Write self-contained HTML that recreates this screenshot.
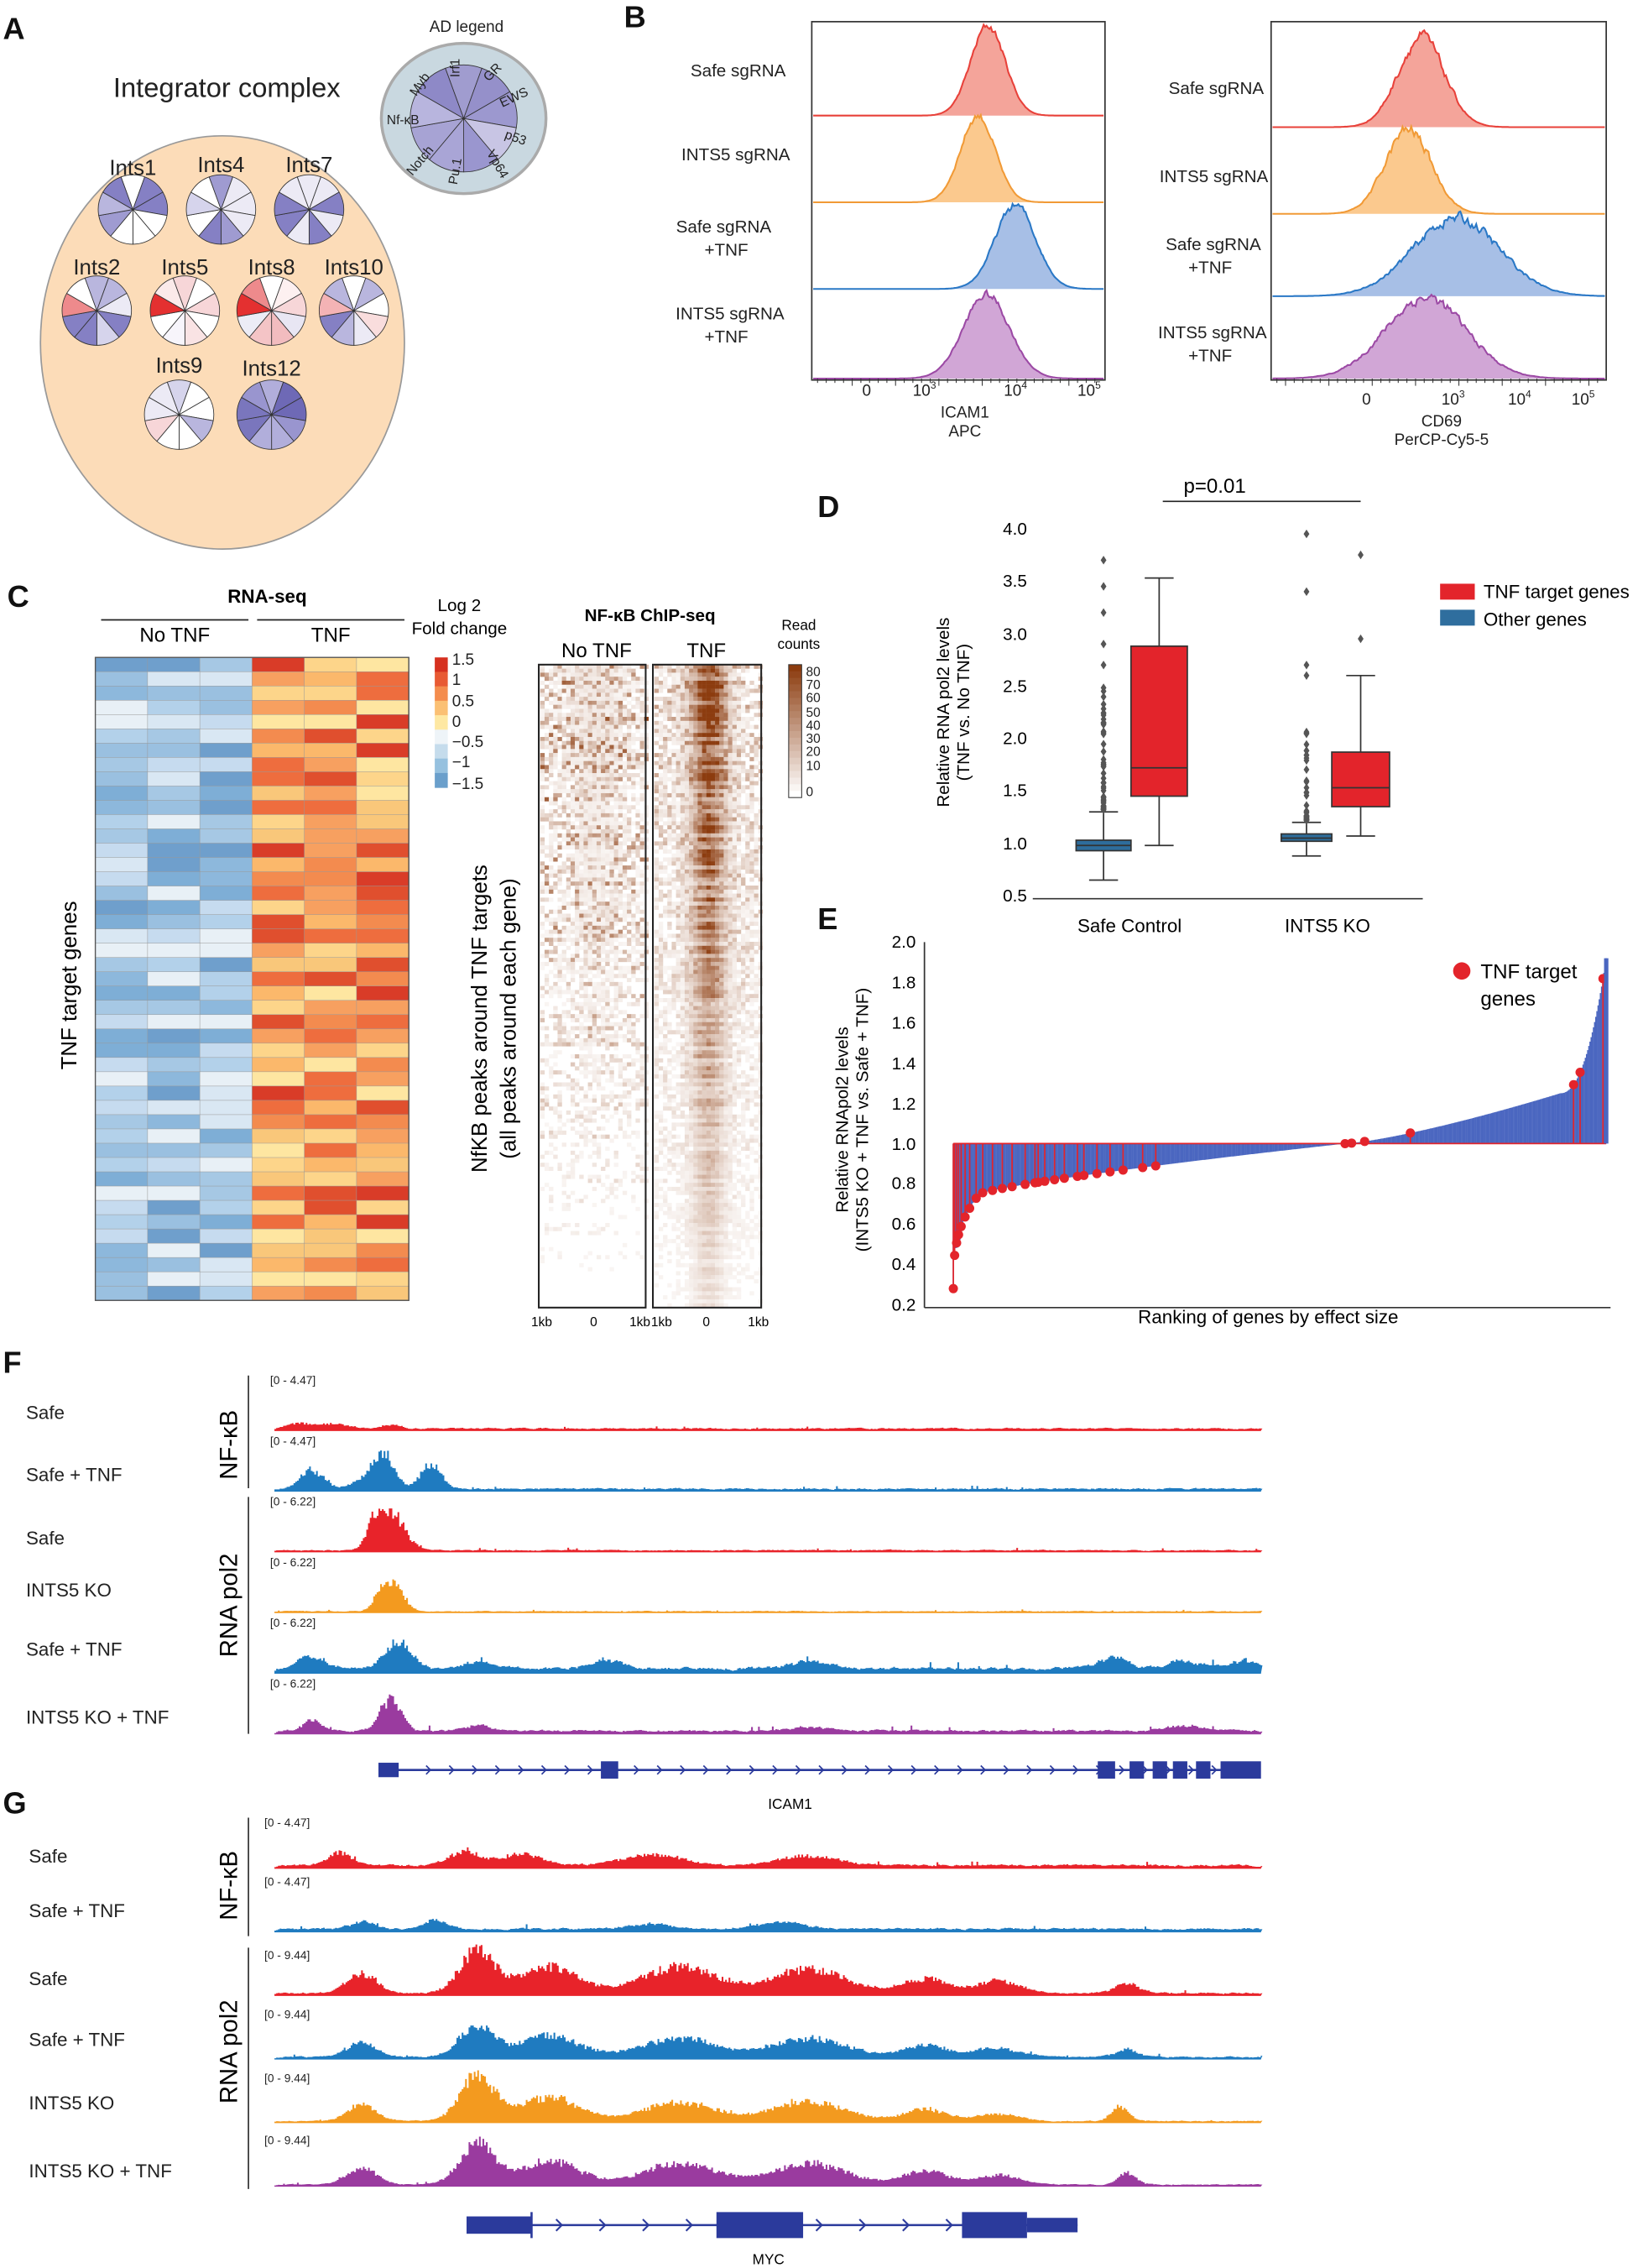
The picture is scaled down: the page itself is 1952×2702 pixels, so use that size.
<!DOCTYPE html>
<html><head><meta charset="utf-8"><style>
html,body{margin:0;padding:0;background:#fff}
svg{display:block}
text{font-family:"Liberation Sans",Arial,sans-serif}
</style></head><body>
<svg id="s" width="1952" height="2702" viewBox="0 0 1134 1569.7" xmlns="http://www.w3.org/2000/svg">
<rect width="1134" height="1570" fill="#fff"/>
<g id="g"></g>
<g font-weight="bold" font-size="21" fill="#111">
<text x="2" y="27">A</text><text x="432" y="19">B</text><text x="5" y="420">C</text>
<text x="566" y="358">D</text><text x="566" y="643">E</text><text x="2" y="950">F</text><text x="2" y="1255">G</text>
</g>
<text x="157" y="67" font-size="19" text-anchor="middle" fill="#222">Integrator complex</text>
<text x="323" y="22" font-size="11" text-anchor="middle" fill="#222">AD legend</text>
<g font-size="15" text-anchor="middle" fill="#222">
<text x="92" y="121">Ints1</text><text x="153" y="119">Ints4</text><text x="214" y="119">Ints7</text>
<text x="67" y="190">Ints2</text><text x="128" y="190">Ints5</text><text x="188" y="190">Ints8</text><text x="245" y="190">Ints10</text>
<text x="124" y="258">Ints9</text><text x="188" y="260">Ints12</text>
</g>
<g font-size="9" fill="#222" text-anchor="middle">
<text x="293" y="60" transform="rotate(-55 293 60)">Myb</text>
<text x="318" y="47" transform="rotate(-90 318 47)">Irf1</text>
<text x="343" y="52" transform="rotate(-45 343 52)">GR</text>
<text x="357" y="70" transform="rotate(-25 357 70)">EWS</text>
<text x="279" y="86">Nf-κB</text>
<text x="356" y="98" transform="rotate(20 356 98)">p53</text>
<text x="293" y="113" transform="rotate(-50 293 113)">Notch</text>
<text x="318" y="119" transform="rotate(-80 318 119)">Pu.1</text>
<text x="342" y="115" transform="rotate(60 342 115)">Vp64</text>
</g>
<g font-size="12" fill="#222" text-anchor="end">
<text x="544" y="53">Safe sgRNA</text><text x="547" y="111">INTS5 sgRNA</text>
<text x="534" y="161">Safe sgRNA</text><text x="518" y="177">+TNF</text>
<text x="543" y="221">INTS5 sgRNA</text><text x="518" y="237">+TNF</text>
<text x="875" y="65">Safe sgRNA</text><text x="878" y="126">INTS5 sgRNA</text>
<text x="873" y="173">Safe sgRNA</text><text x="853" y="189">+TNF</text>
<text x="877" y="234">INTS5 sgRNA</text><text x="853" y="250">+TNF</text>
</g>
<g font-size="11" fill="#222" text-anchor="middle">
<text x="600" y="274">0</text><text x="640" y="274">10<tspan font-size="7" dy="-5">3</tspan></text>
<text x="703" y="274">10<tspan font-size="7" dy="-5">4</tspan></text><text x="754" y="274">10<tspan font-size="7" dy="-5">5</tspan></text>
<text x="668" y="289">ICAM1</text><text x="668" y="302">APC</text>
<text x="946" y="280">0</text><text x="1006" y="280">10<tspan font-size="7" dy="-5">3</tspan></text>
<text x="1052" y="280">10<tspan font-size="7" dy="-5">4</tspan></text><text x="1096" y="280">10<tspan font-size="7" dy="-5">5</tspan></text>
<text x="998" y="295">CD69</text><text x="998" y="308">PerCP-Cy5-5</text>
</g>
<text x="185" y="417" font-size="13" font-weight="bold" text-anchor="middle">RNA-seq</text>
<text x="121" y="444" font-size="14" text-anchor="middle">No TNF</text>
<text x="229" y="444" font-size="14" text-anchor="middle">TNF</text>
<line x1="70" y1="429" x2="172" y2="429" stroke="#222"/><line x1="178" y1="429" x2="280" y2="429" stroke="#222"/>
<text x="318" y="423" font-size="12" text-anchor="middle">Log 2</text>
<text x="318" y="439" font-size="12" text-anchor="middle">Fold change</text>
<g font-size="11" fill="#222"><text x="313" y="460">1.5</text><text x="313" y="474">1</text><text x="313" y="489">0.5</text><text x="313" y="503">0</text><text x="313" y="517">−0.5</text><text x="313" y="531">−1</text><text x="313" y="546">−1.5</text></g>
<text x="53" y="682" font-size="15" text-anchor="middle" transform="rotate(-90 53 682)">TNF target genes</text>
<text x="450" y="430" font-size="12" font-weight="bold" text-anchor="middle">NF-κB ChIP-seq</text>
<text x="413" y="455" font-size="14" text-anchor="middle">No TNF</text>
<text x="489" y="455" font-size="14" text-anchor="middle">TNF</text>
<text x="553" y="436" font-size="10" text-anchor="middle">Read</text><text x="553" y="449" font-size="10" text-anchor="middle">counts</text>
<g font-size="9" fill="#222"><text x="558" y="468">80</text><text x="558" y="477">70</text><text x="558" y="486">60</text><text x="558" y="496">50</text><text x="558" y="505">40</text><text x="558" y="514">30</text><text x="558" y="523">20</text><text x="558" y="533">10</text><text x="558" y="551">0</text></g>
<text x="337" y="705" font-size="15" text-anchor="middle" transform="rotate(-90 337 705)">NfKB peaks around TNF targets</text>
<text x="357" y="705" font-size="15" text-anchor="middle" transform="rotate(-90 357 705)">(all peaks around each gene)</text>
<g font-size="9" text-anchor="middle"><text x="375" y="918">1kb</text><text x="411" y="918">0</text><text x="443" y="918">1kb</text><text x="458" y="918">1kb</text><text x="489" y="918">0</text><text x="525" y="918">1kb</text></g>
<text x="841" y="341" font-size="14" text-anchor="middle">p=0.01</text>
<line x1="805" y1="347" x2="942" y2="347" stroke="#222"/>
<g font-size="12" text-anchor="end"><text x="711" y="370">4.0</text><text x="711" y="406">3.5</text><text x="711" y="443">3.0</text><text x="711" y="479">2.5</text><text x="711" y="515">2.0</text><text x="711" y="551">1.5</text><text x="711" y="588">1.0</text><text x="711" y="624">0.5</text></g>
<text x="657" y="493" font-size="12" text-anchor="middle" transform="rotate(-90 657 493)">Relative RNA pol2 levels</text>
<text x="671" y="493" font-size="12" text-anchor="middle" transform="rotate(-90 671 493)">(TNF vs. No TNF)</text>
<text x="782" y="645" font-size="13" text-anchor="middle">Safe Control</text>
<text x="919" y="645" font-size="13" text-anchor="middle">INTS5 KO</text>
<rect x="997" y="404" width="24" height="11" fill="#e3242b"/><text x="1027" y="414" font-size="13">TNF target genes</text>
<rect x="997" y="422" width="24" height="11" fill="#2f6e9e"/><text x="1027" y="433" font-size="13">Other genes</text>
<g font-size="12" text-anchor="end"><text x="634" y="656">2.0</text><text x="634" y="684">1.8</text><text x="634" y="712">1.6</text><text x="634" y="740">1.4</text><text x="634" y="768">1.2</text><text x="634" y="796">1.0</text><text x="634" y="823">0.8</text><text x="634" y="851">0.6</text><text x="634" y="879">0.4</text><text x="634" y="907">0.2</text></g>
<text x="587" y="775" font-size="12" text-anchor="middle" transform="rotate(-90 587 775)">Relative RNApol2 levels</text>
<text x="601" y="775" font-size="12" text-anchor="middle" transform="rotate(-90 601 775)">(INTS5 KO + TNF vs. Safe + TNF)</text>
<text x="878" y="916" font-size="13" text-anchor="middle">Ranking of genes by effect size</text>
<circle cx="1012" cy="672" r="6" fill="#e3242b"/><text x="1025" y="677" font-size="14">TNF target</text><text x="1025" y="696" font-size="14">genes</text>
<g font-size="13" fill="#222">
<text x="18" y="982">Safe</text><text x="18" y="1025">Safe + TNF</text><text x="18" y="1069">Safe</text><text x="18" y="1105">INTS5 KO</text><text x="18" y="1146">Safe + TNF</text><text x="18" y="1193">INTS5 KO + TNF</text>
<text x="20" y="1289">Safe</text><text x="20" y="1327">Safe + TNF</text><text x="20" y="1374">Safe</text><text x="20" y="1416">Safe + TNF</text><text x="20" y="1460">INTS5 KO</text><text x="20" y="1507">INTS5 KO + TNF</text>
</g>
<g font-size="17" text-anchor="middle">
<text x="164" y="1000" transform="rotate(-90 164 1000)">NF-κB</text>
<text x="164" y="1111" transform="rotate(-90 164 1111)">RNA pol2</text>
<text x="164" y="1305" transform="rotate(-90 164 1305)">NF-κB</text>
<text x="164" y="1420" transform="rotate(-90 164 1420)">RNA pol2</text>
</g>
<line x1="172" y1="952" x2="172" y2="1030" stroke="#333"/><line x1="172" y1="1036" x2="172" y2="1200" stroke="#333"/>
<line x1="172" y1="1258" x2="172" y2="1340" stroke="#333"/><line x1="172" y1="1348" x2="172" y2="1515" stroke="#333"/>
<g font-size="8" fill="#222">
<text x="187" y="958">[0 - 4.47]</text><text x="187" y="1000">[0 - 4.47]</text><text x="187" y="1042">[0 - 6.22]</text><text x="187" y="1084">[0 - 6.22]</text><text x="187" y="1126">[0 - 6.22]</text><text x="187" y="1168">[0 - 6.22]</text>
<text x="183" y="1264">[0 - 4.47]</text><text x="183" y="1305">[0 - 4.47]</text><text x="183" y="1356">[0 - 9.44]</text><text x="183" y="1397">[0 - 9.44]</text><text x="183" y="1441">[0 - 9.44]</text><text x="183" y="1484">[0 - 9.44]</text>
</g>
<text x="547" y="1252" font-size="10" text-anchor="middle">ICAM1</text>
<text x="532" y="1567" font-size="10" text-anchor="middle">MYC</text>
</svg>
<script>
(function(){
var NS="http://www.w3.org/2000/svg",G=document.getElementById("g");
function el(t,a){var e=document.createElementNS(NS,t);for(var k in a)e.setAttribute(k,a[k]);G.appendChild(e);return e;}
var seed=12345;function R(){seed=(seed*16807)%2147483647;return (seed-1)/2147483646;}
el("ellipse",{cx:154,cy:237,rx:126,ry:143,fill:"#fcdcb8",stroke:"#999","stroke-width":1});
el("ellipse",{cx:321,cy:82,rx:57,ry:52,fill:"#c9d8e0",stroke:"#aaa","stroke-width":2});
function pie(cx,cy,r,cols){var n=cols.length;for(var i=0;i<n;i++){var a0=-Math.PI/2+i*2*Math.PI/n-0.35,a1=a0+2*Math.PI/n;
el("path",{d:"M"+cx+","+cy+"L"+(cx+r*Math.cos(a0))+","+(cy+r*Math.sin(a0))+"A"+r+","+r+" 0 0 1 "+(cx+r*Math.cos(a1))+","+(cy+r*Math.sin(a1))+"Z",fill:cols[i],stroke:"#333","stroke-width":0.5});}}
var L=["#fff","#eceaf5","#d6d4ec","#b9b6de","#9f9bd1","#8580c4"];
function rc(a){return a[Math.floor(R()*a.length)];}
pie(321,82,37,["#a09ccf","#9590ca","#9c98cf","#c8c5e4","#9a96cf","#a9a5d6","#a7a3d4","#b8b5de","#8e89c7"]);
[[92,145],[153,145],[214,145],[67,215],[128,215],[188,215],[245,215],[124,287],[188,287]].forEach(function(p,k){
var c=[];for(var i=0;i<9;i++){c.push(rc(L));}
if(k==8)c=c.map(function(){return rc(["#8884c6","#7a76bd","#9995cf","#b1aedb","#6e69b6"]);});
if(k==3){c[7]="#ee8a8c";}
if(k==4){c=["#f7d6d8","#fff","#f7d6d8","#fff","#f9e3e4","#f7f5fb","#fff","#e43030","#fbeaea"];}
if(k==5){c=["#fff","#fdf0f0","#f7d6d8","#e8e6f3","#f2bcbf","#f4c4c6","#ececf6","#e43030","#ee8a8c"];}
if(k==6){c[7]="#f4b3b5";c[3]="#f9dddd";}
if(k==7){c[6]="#f7d6d8";}
pie(p[0],p[1],24,c);});
function hist(x0,x1,yb,h,mu,sd,fill,stroke,rough){var pts=[],n=0;
for(var x=x0;x<=x1;x+=1){var t=(x-mu)/sd;n=0.6*n+0.4*(R()-0.5);var v=Math.exp(-t*t/2)*(1+rough*n);pts.push([x,yb-h*v]);}
var d="M"+x0+","+yb+pts.map(function(p){return "L"+p[0]+","+p[1].toFixed(1);}).join("")+"L"+x1+","+yb+"Z";
el("path",{d:d,fill:fill,stroke:"none"});
el("path",{d:"M"+pts.map(function(p){return p[0]+","+p[1].toFixed(1);}).join("L"),fill:"none",stroke:stroke,"stroke-width":1.2});}
el("rect",{x:562,y:15,width:203,height:248,fill:"none",stroke:"#333"});
el("rect",{x:880,y:15,width:232,height:248,fill:"none",stroke:"#333"});
var cs=[["#f4a49a","#e8413a"],["#fbc98e","#f19a36"],["#a7bfe6","#2a78c6"],["#d1a6d6","#9c4aa5"]];
[[80,684,12,62],[140,677,12,60],[200,703,14,58],[262,683,16,58]].forEach(function(r,i){hist(563,764,r[0],r[3],r[1],r[2],cs[i][0],cs[i][1],0.2);});
[[88,984,16,62],[148,975,16,58],[205,1008,30,54],[262,987,28,56]].forEach(function(r,i){hist(881,1111,r[0],r[3],r[1],r[2],cs[i][0],cs[i][1],0.3);});
function ticks(x0,x1,y){for(var x=x0;x<x1;x+=6)el("line",{x1:x,y1:y,x2:x,y2:y+(x%5==0?5:3),stroke:"#333","stroke-width":0.6});}
ticks(566,764,262);ticks(884,1110,262);
var rows=45,hy0=455,hy1=900,rh=(hy1-hy0)/rows,cw=(283-66)/6;
var blues=["#c6dbef","#b3d1ea","#a6c8e4","#9ac0e0","#8db8dc","#d9e7f3","#7eaed6","#e8f0f6","#6f9fcc"],
oranges=["#fdd58a","#fbb86b","#f7a060","#f38b4f","#ee6d3e","#e04f2e","#fee6a1","#f9c77a","#d93c28"];
for(var r=0;r<rows;r++)for(var c=0;c<6;c++){var col=c<3?rc(blues):rc(oranges);
el("rect",{x:66+c*cw,y:hy0+r*rh,width:cw+0.3,height:rh+0.3,fill:col,stroke:"#9a9a9a","stroke-width":0.3});}
el("rect",{x:66,y:hy0,width:217,height:445,fill:"none",stroke:"#555","stroke-width":0.8});
var cb=["#d6301f","#e85a33","#f48c4d","#fbc074","#fee8a3","#eef4f8","#c5dcec","#96c1df","#6a9fcb"];
cb.forEach(function(c,i){el("rect",{x:301,y:455+i*10,width:9,height:10.3,fill:c});});
function cc(v){v=Math.max(0,Math.min(1,v));return "rgb("+(255-Math.round(v*115))+","+(255-Math.round(v*195))+","+(255-Math.round(v*240))+")";}
function chip(x0,strong){for(var r=0;r<160;r++){var y=460+r*2.78,top=Math.max(0,1-r/160),rowf=0.4+R()*0.9;
for(var c=0;c<25;c++){var x=x0+c*3,d=Math.abs(c-12)/12,v;
if(strong){v=Math.exp(-d*d*10)*(0.15+1.0*Math.pow(top,1.4))*rowf+Math.pow(R(),3)*0.5*top+R()*0.06;}
else{v=(Math.pow(R(),4)*0.8*top+R()*0.08*top)*rowf+Math.exp(-d*d*3)*0.08*top;}
if(v>0.05)el("rect",{x:x,y:y,width:3.1,height:2.9,fill:cc(v)});}}}
chip(374,false);chip(453,true);
el("rect",{x:373,y:460,width:74,height:445,fill:"none",stroke:"#222","stroke-width":1.2});
el("rect",{x:452,y:460,width:75,height:445,fill:"none",stroke:"#222","stroke-width":1.2});
for(var i=0;i<20;i++){el("rect",{x:546,y:460+i*4.6,width:9,height:4.8,fill:cc(1-i/19)});}
el("rect",{x:546,y:460,width:9,height:92,fill:"none",stroke:"#333","stroke-width":0.6});
function Y(v){return 620-(v-0.5)*72.6;}
el("line",{x1:715,y1:622,x2:985,y2:622,stroke:"#333"});
function box(x0,x1,q1,m,q3,lo,hi,fill,outs){var xc=(x0+x1)/2;
el("line",{x1:xc,y1:Y(hi),x2:xc,y2:Y(lo),stroke:"#333"});
el("line",{x1:xc-10,y1:Y(hi),x2:xc+10,y2:Y(hi),stroke:"#333"});el("line",{x1:xc-10,y1:Y(lo),x2:xc+10,y2:Y(lo),stroke:"#333"});
el("rect",{x:x0,y:Y(q3),width:x1-x0,height:Y(q1)-Y(q3),fill:fill,stroke:"#333"});
el("line",{x1:x0,y1:Y(m),x2:x1,y2:Y(m),stroke:"#333"});
outs.forEach(function(o){el("path",{d:"M"+xc+","+(Y(o)-3)+"l2,3l-2,3l-2,-3z",fill:"#555"});});}
var o1=[];for(var i=0;i<60;i++)o1.push(1.32+Math.pow(R(),2.5)*1.2);o1.push(2.7,2.9,3.2,3.45,3.7);
var o2=[];for(var i=0;i<50;i++)o2.push(1.22+Math.pow(R(),3)*0.9);o2.push(2.6,2.7,3.4,3.95);
box(745,783,0.93,0.98,1.03,0.65,1.3,"#2e6d9c",o1);
box(783,822,1.45,1.72,2.88,0.98,3.53,"#e3242b",[]);
box(887,922,1.02,1.05,1.09,0.88,1.2,"#2e6d9c",o2);
box(922,962,1.35,1.53,1.87,1.07,2.6,"#e3242b",[2.95,3.75]);
function EY(v){return 903-(v-0.2)*139.4;}
el("line",{x1:640,y1:652,x2:640,y2:905,stroke:"#333"});el("line",{x1:640,y1:905,x2:1115,y2:905,stroke:"#333"});
function g(t){if(t<0.04)return 0.28+0.47*Math.pow(t/0.04,0.35);if(t<0.93){var u=(t-0.04)/0.89;if(u<0.63)return 0.75+0.25*Math.pow(u/0.63,0.8);return 1+0.25*Math.pow((u-0.63)/0.37,1.3);}return 1.25+0.67*Math.pow((t-0.93)/0.07,2.2);}
for(var x=660;x<=1112;x+=0.8){var t=(x-660)/452;el("line",{x1:x,y1:EY(1),x2:x,y2:EY(g(t)).toFixed(1),stroke:"#4a66c0","stroke-width":0.9});}
for(var x=660;x<666;x++)el("circle",{cx:x,cy:EY(g((x-660)/452)),r:2.2,fill:"#4a66c0"});
el("line",{x1:660,y1:EY(1),x2:1112,y2:EY(1),stroke:"#e3242b","stroke-width":1});
var reds=[0,0.002,0.005,0.008,0.012,0.018,0.025,0.035,0.045,0.06,0.075,0.09,0.11,0.125,0.14,0.13,0.155,0.17,0.19,0.2,0.22,0.24,0.26,0.29,0.31,0.6,0.61,0.63,0.7,0.95,0.96,0.995];
reds.forEach(function(t){var x=660+t*452,y=EY(g(t));el("line",{x1:x,y1:EY(1),x2:x,y2:y,stroke:"#e3242b","stroke-width":1});el("circle",{cx:x,cy:y,r:3.2,fill:"#e3242b"});});
el("line",{x1:1112,y1:EY(1),x2:1112,y2:EY(1.92),stroke:"#4a66c0","stroke-width":3});
function track(yb,h,col,peaks,base,x0,x1){var d="M"+x0+","+yb,n=0;for(var x=x0;x<=x1;x+=1.2){n=0.7*n+0.3*R();var v=base*(0.2+n*1.4)*(R()<0.015?2:1);
peaks.forEach(function(p){var t=(x-p[0])/p[2];v+=p[1]*Math.exp(-t*t/2)*(0.7+R()*0.35);});
var yy=(yb-Math.min(h,v*h)).toFixed(1);d+="L"+x.toFixed(1)+","+yy+"L"+(x+1.2).toFixed(1)+","+yy;}
d+="L"+x1+","+yb+"Z";el("path",{d:d,fill:col});el("line",{x1:x0,y1:yb,x2:x1,y2:yb,stroke:col,"stroke-width":0.8});}
var RED="#e8232a",BLU="#1f7bc0",ORA="#f39a1f",PUR="#9a3b9f";
track(990,30,RED,[[205,0.15,8],[230,0.12,10],[270,0.1,6]],0.05,190,873);
track(1032,30,BLU,[[215,0.5,8],[265,0.95,7],[298,0.65,7],[250,0.2,8]],0.06,190,873);
track(1074,30,RED,[[270,1.0,9],[258,0.5,5]],0.04,190,873);
track(1116,30,ORA,[[272,0.7,7],[262,0.3,5]],0.03,190,873);
track(1158,30,BLU,[[275,0.7,9],[215,0.3,10],[330,0.2,10],[420,0.2,12],[560,0.2,12],[770,0.3,10],[820,0.2,12],[860,0.2,8]],0.12,190,873);
track(1200,30,PUR,[[270,0.8,7],[215,0.3,6],[330,0.15,8],[560,0.1,12],[820,0.15,12]],0.08,190,873);
track(1293,28,RED,[[235,0.35,8],[320,0.4,10],[360,0.3,15],[450,0.3,20],[560,0.25,20]],0.08,190,873);
track(1337,28,BLU,[[250,0.2,8],[300,0.25,8],[450,0.15,15],[540,0.2,15]],0.08,190,873);
track(1381,37,RED,[[250,0.4,10],[330,0.9,12],[380,0.55,20],[470,0.55,25],[560,0.5,25],[640,0.3,15],[690,0.25,15],[780,0.2,8]],0.05,190,873);
track(1425,37,BLU,[[250,0.3,10],[330,0.65,12],[380,0.45,20],[470,0.4,25],[560,0.4,25],[640,0.25,15],[690,0.2,15],[780,0.15,8]],0.04,190,873);
track(1469,37,ORA,[[250,0.35,10],[330,0.95,12],[380,0.5,20],[470,0.4,25],[560,0.4,25],[640,0.25,15],[690,0.15,15],[775,0.3,6]],0.03,190,873);
track(1513,37,PUR,[[250,0.35,10],[330,0.85,12],[380,0.5,20],[470,0.45,25],[560,0.45,25],[640,0.3,15],[690,0.2,15],[780,0.25,6]],0.03,190,873);
var GC="#2b3a9c";
el("line",{x1:262,y1:1225,x2:872,y2:1225,stroke:GC,"stroke-width":1.5});
el("rect",{x:262,y:1220,width:14,height:10,fill:GC});
[[416,12],[760,12],[782,10],[798,10],[812,10],[828,10],[845,28]].forEach(function(e){el("rect",{x:e[0],y:1219,width:e[1],height:12,fill:GC});});
for(var x=295;x<860;x+=16)el("path",{d:"M"+x+",1222l3,3l-3,3",fill:"none",stroke:GC,"stroke-width":1});
el("line",{x1:323,y1:1540,x2:746,y2:1540,stroke:GC,"stroke-width":1.5});
el("rect",{x:323,y:1534,width:45,height:12,fill:GC});el("rect",{x:496,y:1531,width:60,height:18,fill:GC});
el("rect",{x:666,y:1531,width:45,height:18,fill:GC});el("rect",{x:711,y:1535,width:35,height:10,fill:GC});
el("line",{x1:368,y1:1531,x2:368,y2:1549,stroke:GC,"stroke-width":1.5});
for(var x=385;x<660;x+=30)if(x<490||x>560)el("path",{d:"M"+x+",1536l4,4l-4,4",fill:"none",stroke:GC,"stroke-width":1.2});
})();
</script>
</body></html>
